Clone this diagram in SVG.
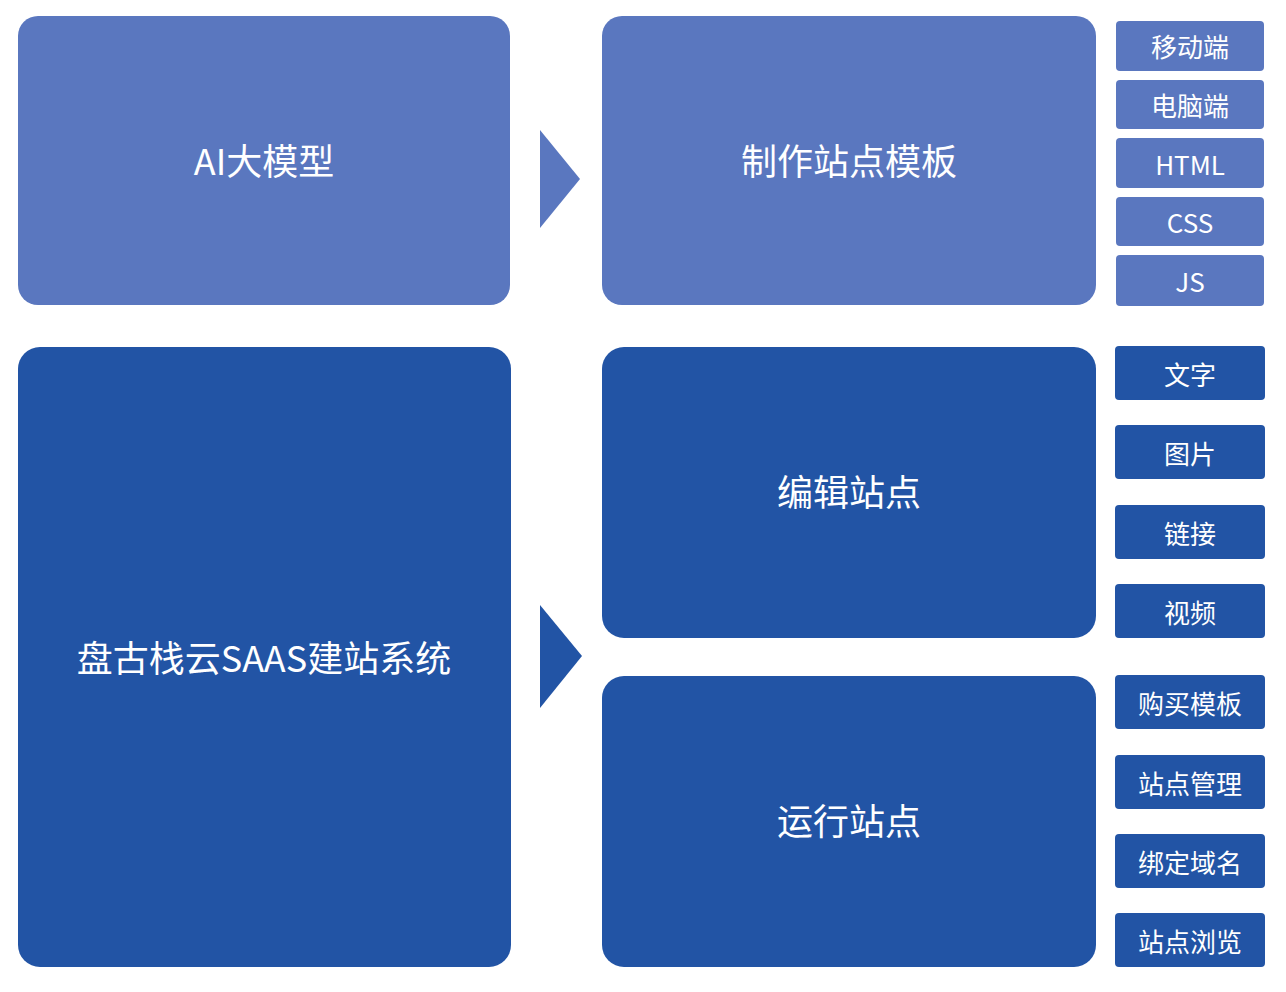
<svg xmlns="http://www.w3.org/2000/svg" width="1286" height="992" viewBox="0 0 1286 992">
<style>
.l{fill:#5a77bf}.d{fill:#2254a5}
text{fill:#fff;font-family:"Noto Sans CJK SC","Liberation Sans",sans-serif;text-anchor:middle;dominant-baseline:central}
.b{font-size:36px}.s{font-size:26px}
</style>
<rect width="1286" height="992" fill="#fff"/>
<g id="ai"><rect class="l" x="18" y="16" width="492" height="289" rx="20"/><text class="b" x="264" y="159">AI大模型</text></g>
<g id="tpl"><rect class="l" x="602" y="16" width="494" height="289" rx="20"/><text class="b" x="849" y="159">制作站点模板</text></g>
<g id="m1"><rect class="l" x="1116" y="21" width="148" height="50" rx="4"/><text class="s" x="1190" y="45">移动端</text></g>
<g id="m2"><rect class="l" x="1116" y="80" width="148" height="49" rx="4"/><text class="s" x="1190" y="104">电脑端</text></g>
<g id="m3"><rect class="l" x="1116" y="138" width="148" height="50" rx="4"/><text class="s" x="1190" y="163">HTML</text></g>
<g id="m4"><rect class="l" x="1116" y="197" width="148" height="49" rx="4"/><text class="s" x="1190" y="221">CSS</text></g>
<g id="m5"><rect class="l" x="1116" y="255" width="148" height="51" rx="4"/><text class="s" x="1190" y="280">JS</text></g>
<g id="saas"><rect class="d" x="18" y="347" width="493" height="620" rx="22"/><text class="b" x="264" y="656">盘古栈云SAAS建站系统</text></g>
<g id="edit"><rect class="d" x="602" y="347" width="494" height="291" rx="22"/><text class="b" x="849" y="490">编辑站点</text></g>
<g id="run"><rect class="d" x="602" y="676" width="494" height="291" rx="22"/><text class="b" x="849" y="819">运行站点</text></g>
<g id="e1"><rect class="d" x="1115" y="346" width="150" height="54" rx="4"/><text class="s" x="1190" y="373">文字</text></g>
<g id="e2"><rect class="d" x="1115" y="425" width="150" height="54" rx="4"/><text class="s" x="1190" y="452">图片</text></g>
<g id="e3"><rect class="d" x="1115" y="505" width="150" height="54" rx="4"/><text class="s" x="1190" y="532">链接</text></g>
<g id="e4"><rect class="d" x="1115" y="584" width="150" height="54" rx="4"/><text class="s" x="1190" y="611">视频</text></g>
<g id="r1"><rect class="d" x="1115" y="675" width="150" height="54" rx="4"/><text class="s" x="1190" y="702">购买模板</text></g>
<g id="r2"><rect class="d" x="1115" y="755" width="150" height="54" rx="4"/><text class="s" x="1190" y="782">站点管理</text></g>
<g id="r3"><rect class="d" x="1115" y="834" width="150" height="54" rx="4"/><text class="s" x="1190" y="861">绑定域名</text></g>
<g id="r4"><rect class="d" x="1115" y="913" width="150" height="54" rx="4"/><text class="s" x="1190" y="940">站点浏览</text></g>
<g id="connectors">
<polygon class="l" points="540,130 580,179 540,228"/>
<polygon class="d" points="540,605 582,656 540,708"/>
</g>
</svg>
